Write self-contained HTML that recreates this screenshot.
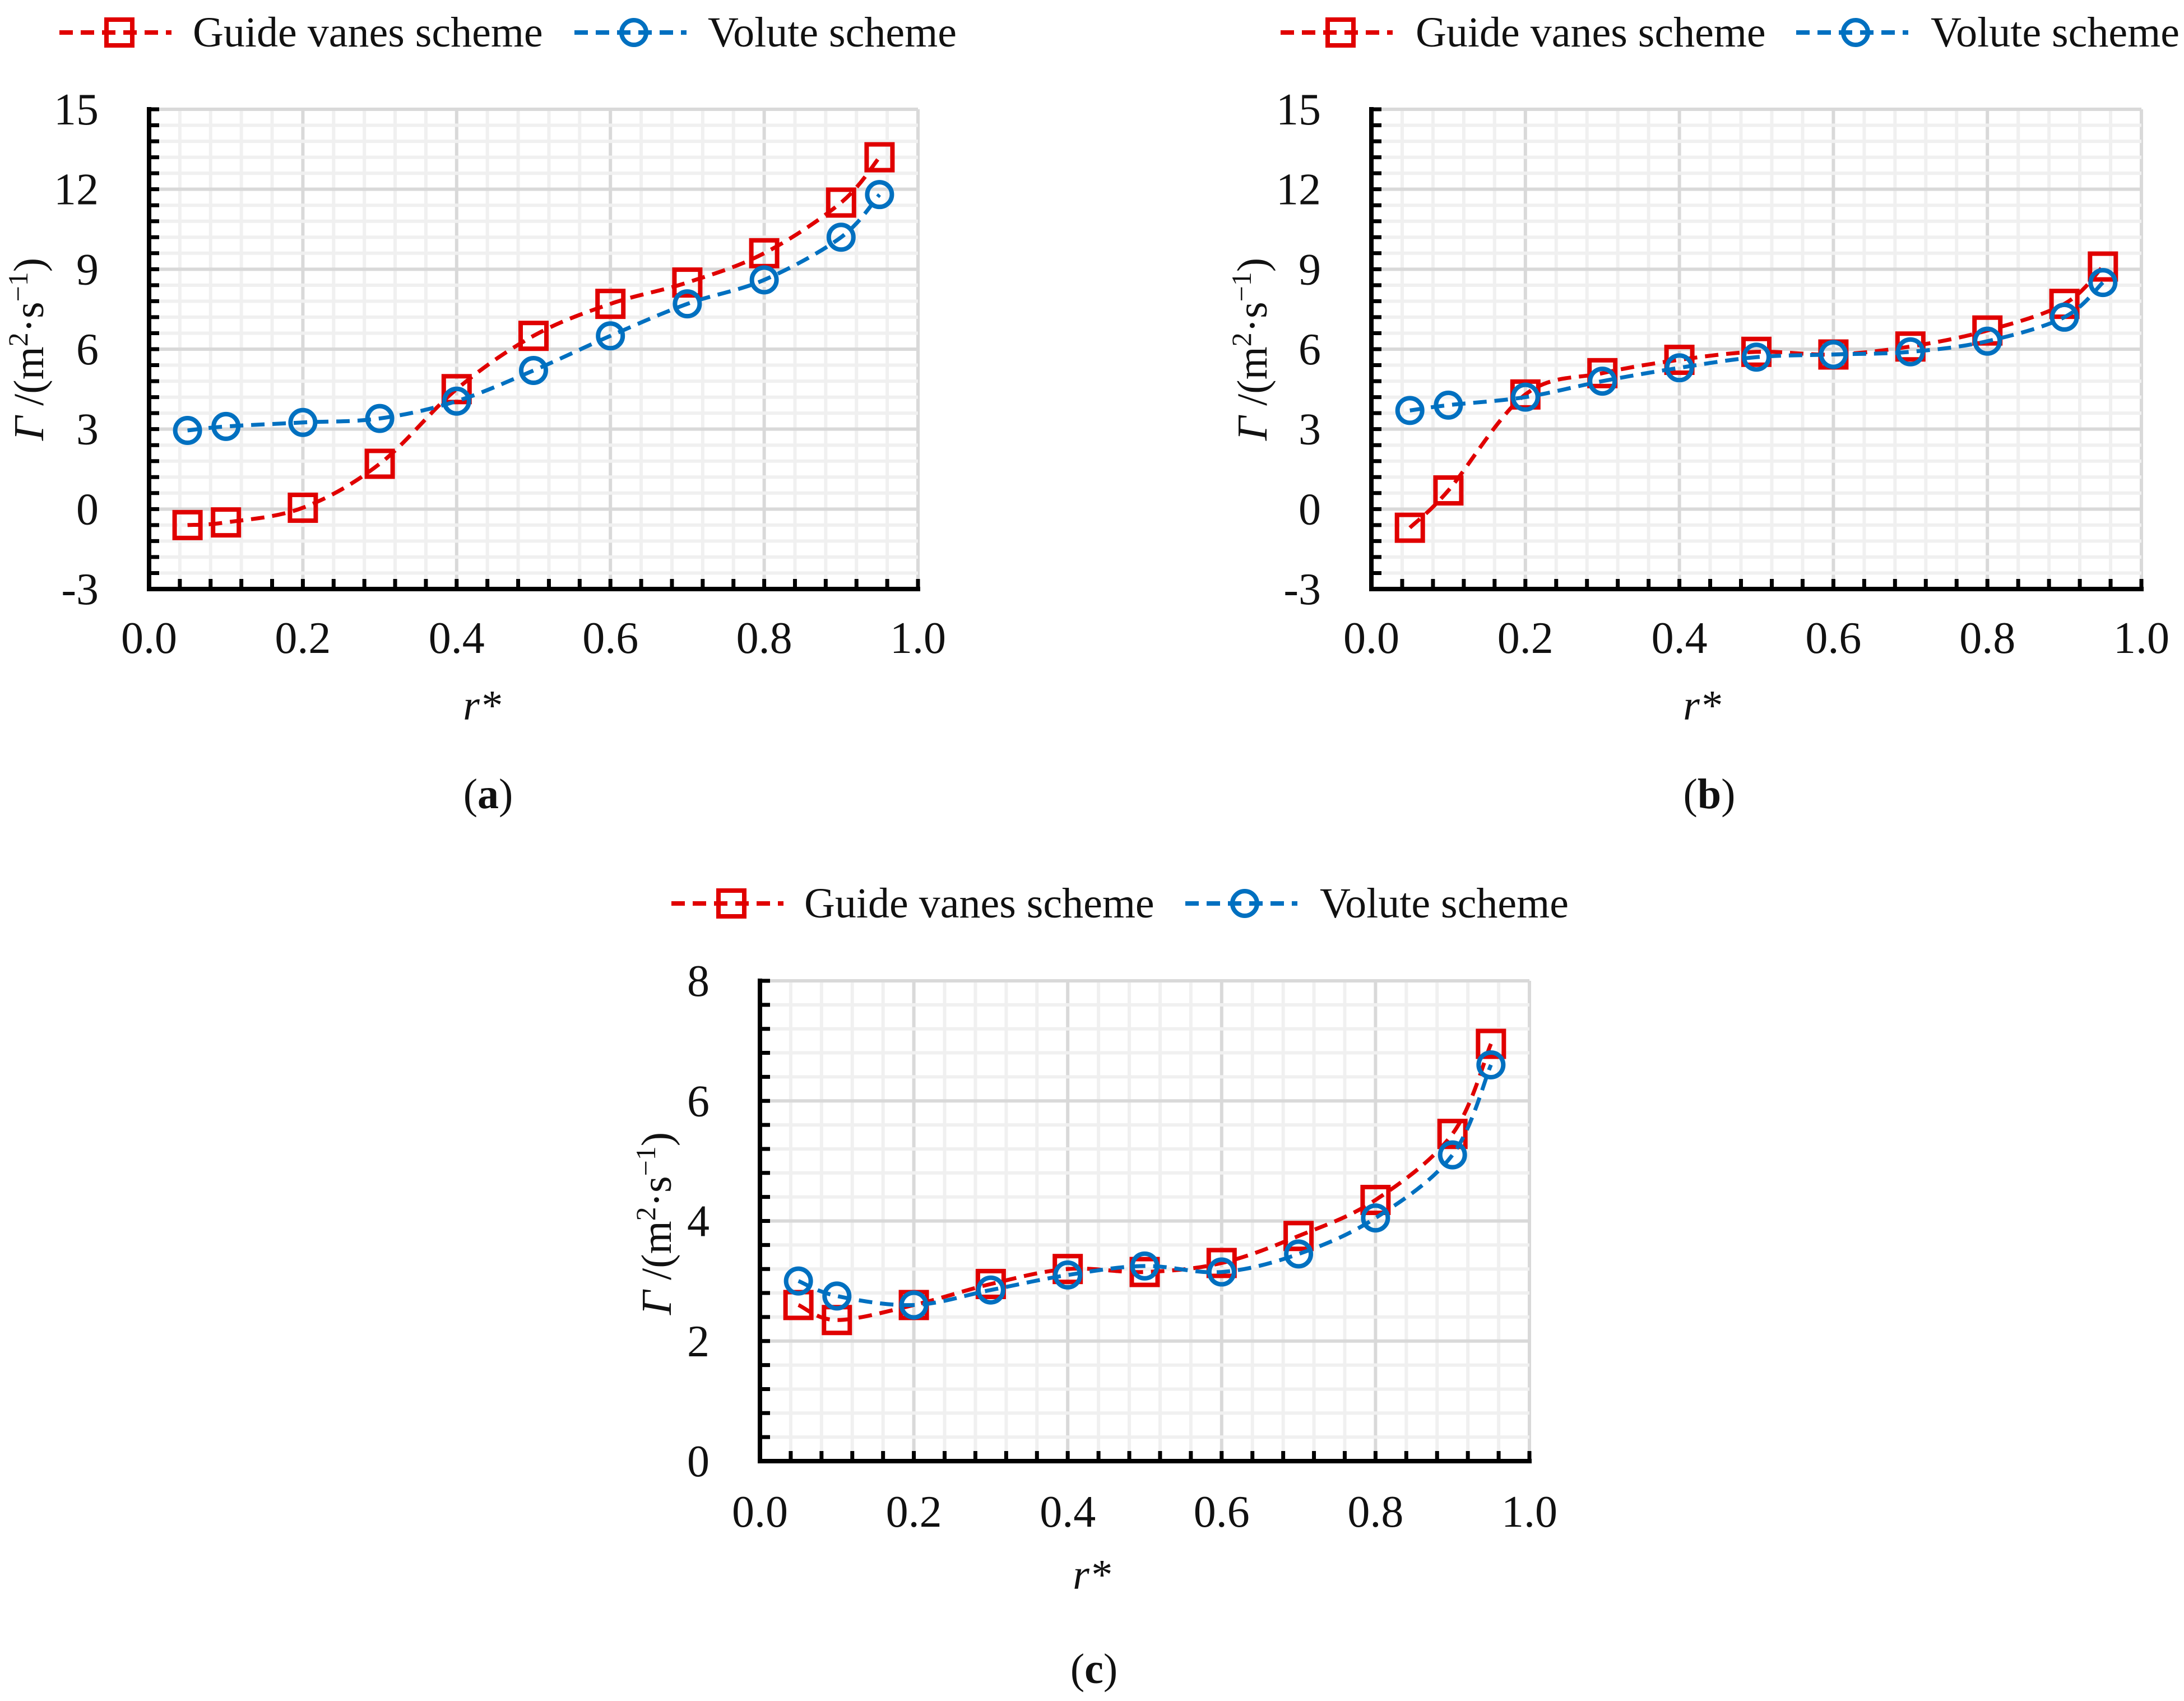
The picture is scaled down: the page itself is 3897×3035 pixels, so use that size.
<!DOCTYPE html>
<html><head><meta charset="utf-8"><style>
html,body{margin:0;padding:0;background:#fff;}
svg{display:block;font-family:"Liberation Serif","Times New Roman",serif;}
</style></head><body>
<svg id="fig" width="3897" height="3035" viewBox="0 0 3897 3035" xmlns="http://www.w3.org/2000/svg"></svg>
<script>
const xValues = [0.05,0.1,0.2,0.3,0.4,0.5,0.6,0.7,0.8,0.9,0.95];
const aGuide = [-0.6,-0.5,0.05,1.7,4.5,6.5,7.7,8.5,9.6,11.5,13.2];
const aVolute = [2.95,3.1,3.25,3.4,4.05,5.2,6.5,7.7,8.6,10.2,11.8];
const bGuide = [-0.7,0.7,4.3,5.1,5.6,5.9,5.8,6.1,6.7,7.7,9.1];
const bVolute = [3.7,3.9,4.2,4.8,5.3,5.7,5.8,5.9,6.3,7.2,8.5];
const cGuide = [2.6,2.35,2.6,2.95,3.2,3.15,3.3,3.75,4.35,5.45,6.95];
const cVolute = [3.0,2.75,2.6,2.85,3.1,3.25,3.15,3.45,4.05,5.1,6.6];
const xTicks = [0,0.2,0.4,0.6,0.8,1.0];
const xTickLabels = ["0.0","0.2","0.4","0.6","0.8","1.0"];
const abYTicks = [-3,0,3,6,9,12,15];
const cYTicks = [0,2,4,6,8];

const NS="http://www.w3.org/2000/svg";
const svg=document.getElementById('fig');
function mk(tag,attrs,parent){const e=document.createElementNS(NS,tag);for(const k in attrs)e.setAttribute(k,attrs[k]);(parent||svg).appendChild(e);return e;}
const RED="#e00000",BLUE="#0070c0";

function smoothPath(pts){
  let d="M"+pts[0][0]+","+pts[0][1];
  for(let i=0;i<pts.length-1;i++){
    const p0=pts[Math.max(0,i-1)],p1=pts[i],p2=pts[i+1],p3=pts[Math.min(pts.length-1,i+2)];
    const t=0.17;
    const c1=[p1[0]+(p2[0]-p0[0])*t,p1[1]+(p2[1]-p0[1])*t];
    const c2=[p2[0]-(p3[0]-p1[0])*t,p2[1]-(p3[1]-p1[1])*t];
    d+=" C"+c1[0]+","+c1[1]+" "+c2[0]+","+c2[1]+" "+p2[0]+","+p2[1];
  }
  return d;
}
function square(g,x,y,col){const s=mk('rect',{x:x-23,y:y-23,width:46,height:46,fill:'none',stroke:col,'stroke-width':8},g);

return s;}
function circle(g,x,y,col){const c=mk('circle',{cx:x,cy:y,r:22,fill:'none',stroke:col,'stroke-width':8},g);

return c;}

function legend(g,lx,ly,rTextX,bx,bTextX){
  const lg=mk('g',{},g);
  
  
  const e1=mk('g',{},lg);
  
  
  mk('line',{x1:lx,y1:ly,x2:lx+200,y2:ly,stroke:RED,'stroke-width':8,'stroke-dasharray':'24,14'},e1);
  square(e1,lx+107,ly,RED);
  const t1=mk('text',{x:rTextX,y:ly+25,'font-size':76,fill:'#111'},e1);t1.textContent="Guide vanes scheme";
  const e2=mk('g',{},lg);
  
  
  mk('line',{x1:bx,y1:ly,x2:bx+200,y2:ly,stroke:BLUE,'stroke-width':8,'stroke-dasharray':'24,14'},e2);
  circle(e2,bx+106,ly,BLUE);
  const t2=mk('text',{x:bTextX,y:ly+25,'font-size':76,fill:'#111'},e2);t2.textContent="Volute scheme";
}

function panel(name,L,R,T,B,ymin,ymax,yTicks,guide,volute,caption,capX,capY,ytX,ytY,rx,ry,xlY){
  const g=mk('g',{});
  
  
  const sx=v=>L+(v-0)*(R-L)/1.0;
  const sy=v=>B-(v-ymin)*(B-T)/(ymax-ymin);
  const yStep=yTicks[1]-yTicks[0];
  const grid=mk('g',{},g);
  
  
  for(let i=0;i<=25;i++){const v=i*0.04,x=sx(v);const major=i%5===0;
    if(i>0) mk('line',{x1:x,y1:T,x2:x,y2:B,stroke:major?'#d9d9d9':'#f0f0f0','stroke-width':6},grid);}
  const nMin=Math.round((ymax-ymin)/yStep*5);
  for(let i=1;i<=nMin;i++){const v=ymin+i*yStep/5,y=sy(v);const major=i%5===0;
    mk('line',{x1:L,y1:y,x2:R,y2:y,stroke:major?'#d9d9d9':'#f0f0f0','stroke-width':6},grid);}
  const ax=mk('g',{},g);
  
  
  mk('line',{x1:L,y1:T-4,x2:L,y2:B+4,stroke:'#000','stroke-width':8},ax);
  mk('line',{x1:L-4,y1:B,x2:R+4,y2:B,stroke:'#000','stroke-width':8},ax);
  for(let i=1;i<=25;i++){const x=sx(i*0.04);mk('line',{x1:x,y1:B,x2:x,y2:B-18,stroke:'#000','stroke-width':7},ax);}
  for(let i=1;i<=nMin;i++){const y=sy(ymin+i*yStep/5);mk('line',{x1:L,y1:y,x2:L+18,y2:y,stroke:'#000','stroke-width':7},ax);}
  xTicks.forEach((v,i)=>{const t=mk('text',{x:sx(v),y:xlY,'font-size':80,'text-anchor':'middle',fill:'#111'},g);t.textContent=xTickLabels[i];
    });
  yTicks.forEach(v=>{const t=mk('text',{x:L-90,y:sy(v)+27,'font-size':80,'text-anchor':'end',fill:'#111'},g);t.textContent=String(v);
    });
  [[guide,RED,'guide-vanes-series',square],[volute,BLUE,'volute-series',circle]].forEach(([arr,col,nm,mf])=>{
    const sg=mk('g',{},g);
    
    
    const pts=arr.map((v,i)=>[sx(xValues[i]),sy(v)]);
    mk('path',{d:smoothPath(pts),fill:'none',stroke:col,'stroke-width':7,'stroke-dasharray':'24,14'},sg);
    pts.forEach(p=>mf(sg,p[0],p[1],col));
  });
  const yt=mk('text',{x:0,y:0,'font-size':76,'text-anchor':'middle',fill:'#111',transform:'translate('+(ytX+25)+','+ytY+') rotate(-90)'},g);
  
  yt.innerHTML='<tspan font-style="italic">Γ</tspan> /(m<tspan font-size="50" dy="-28">2</tspan><tspan dy="28">·s</tspan><tspan font-size="50" dy="-28">−1</tspan><tspan dy="28">)</tspan>';
  const xt=mk('text',{x:rx,y:ry+25,'font-size':76,'text-anchor':'middle','font-style':'italic',fill:'#111'},g);
  xt.textContent='r*';
  const cp=mk('text',{x:capX,y:capY+25,'font-size':76,'text-anchor':'middle',fill:'#111'},g);
  cp.innerHTML='(<tspan font-weight="bold">'+caption+'</tspan>)';
  
  return g;
}

const ga=panel('a',266,1638,195,1051,-3,15,abYTicks,aGuide,aVolute,'a',871,1417,52,623,860,1259,1165);
legend(ga,106,58,344,1025,1263);
const gb=panel('b',2447,3821,195,1051,-3,15,abYTicks,bGuide,bVolute,'b',3050,1417,2235,623,3037,1259,1165);
legend(gb,2285,58,2526,3205,3445);
const gc=panel('c',1356,2729,1750,2607,0,8,cYTicks,cGuide,cVolute,'c',1952,2978,1172,2183,1948,2810,2724);
legend(gc,1198,1612,1435,2115,2355);
</script>
</body></html>
